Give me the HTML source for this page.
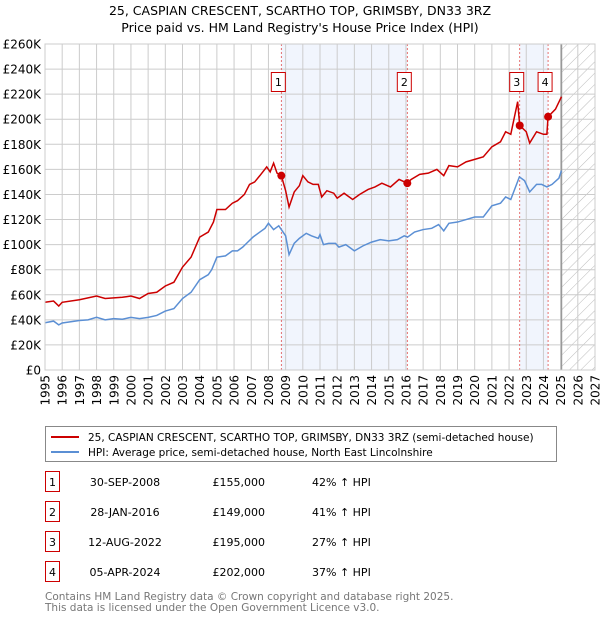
<!DOCTYPE html>
<html><head><meta charset="utf-8">
<style>
body{margin:0;background:#fff;font-family:"Liberation Sans","DejaVu Sans",sans-serif;}
svg text{font-family:"DejaVu Sans","Liberation Sans",sans-serif;}
</style></head>
<body>
<svg id="chart" width="600" height="620" viewBox="0 0 600 620" xmlns="http://www.w3.org/2000/svg">
<defs>
<pattern id="hatch" width="8" height="8" patternUnits="userSpaceOnUse" patternTransform="rotate(45)">
<line x1="0" y1="0" x2="0" y2="8" stroke="#bbb" stroke-width="1"/>
</pattern>
</defs>
<text x="300" y="15" text-anchor="middle" font-size="12.5" fill="#000">25, CASPIAN CRESCENT, SCARTHO TOP, GRIMSBY, DN33 3RZ</text>
<text x="300" y="32" text-anchor="middle" font-size="12.5" fill="#000">Price paid vs. HM Land Registry's House Price Index (HPI)</text>
<g id="plot"></g>
<g id="legend">
<rect x="45.5" y="426.5" width="511" height="35" fill="#fff" stroke="#888"/>
<line x1="51" y1="437" x2="79" y2="437" stroke="#cc0000" stroke-width="2"/>
<text x="88" y="441" font-size="10.5">25, CASPIAN CRESCENT, SCARTHO TOP, GRIMSBY, DN33 3RZ (semi-detached house)</text>
<line x1="51" y1="452" x2="79" y2="452" stroke="#5b8fd4" stroke-width="2"/>
<text x="88" y="456" font-size="10.5">HPI: Average price, semi-detached house, North East Lincolnshire</text>
</g>
<g id="table"></g>
<text x="45" y="600" font-size="10.5" fill="#777">Contains HM Land Registry data © Crown copyright and database right 2025.</text>
<text x="45" y="611" font-size="10.5" fill="#777">This data is licensed under the Open Government Licence v3.0.</text>
</svg>
<script>
const yTicks=[0,20,40,60,80,100,120,140,160,180,200,220,240,260];
const xYears=[1995,1996,1997,1998,1999,2000,2001,2002,2003,2004,2005,2006,2007,2008,2009,2010,2011,2012,2013,2014,2015,2016,2017,2018,2019,2020,2021,2022,2023,2024,2025,2026,2027];
const hpiT=[1995,1995.5,1995.8,1996,1996.5,1997,1997.5,1998,1998.5,1999,1999.5,2000,2000.5,2001,2001.5,2002,2002.5,2003,2003.5,2004,2004.5,2004.7,2005,2005.5,2005.9,2006.2,2006.5,2006.8,2007.1,2007.5,2007.8,2008,2008.3,2008.6,2009,2009.2,2009.5,2009.8,2010.2,2010.5,2010.9,2011,2011.2,2011.5,2011.9,2012.1,2012.5,2013,2013.5,2014,2014.5,2015,2015.5,2015.9,2016.1,2016.5,2017,2017.5,2017.9,2018.2,2018.5,2019,2019.5,2020,2020.5,2021,2021.5,2021.8,2022.1,2022.6,2022.9,2023.2,2023.6,2023.9,2024.2,2024.5,2024.9,2025.05];
const hpiV=[37.7,39,36,37.5,38.5,39.5,40,42,40,41,40.5,42,41,42,43.5,47,49,57,62,72,76,80,90,91,95,95,98,102,106,110,113,117,112,115,107,92,101,105,109,107,105,108,100,101,101,98,100,95,99,102,104,103,104,107,106,110,112,113,116,111,117,118,120,122,122,131,133,138,136,154,151,142,148,148,146,148,153,159];
const ppT=[1995,1995.5,1995.8,1996,1997,1998,1998.5,1999,1999.5,2000,2000.5,2001,2001.5,2002,2002.5,2003,2003.5,2004,2004.5,2004.8,2005,2005.5,2005.9,2006.2,2006.6,2006.9,2007.2,2007.5,2007.9,2008.1,2008.3,2008.5,2008.75,2009,2009.2,2009.5,2009.8,2010,2010.3,2010.6,2010.9,2011.1,2011.4,2011.8,2012,2012.4,2012.9,2013.3,2013.8,2014.2,2014.6,2015.1,2015.6,2016.08,2016.3,2016.8,2017.3,2017.8,2018.2,2018.5,2019,2019.5,2020,2020.5,2021,2021.5,2021.8,2022.1,2022.5,2022.62,2023,2023.2,2023.6,2024,2024.2,2024.27,2024.7,2025.05];
const ppV=[54,55,51,54,56,59,57,57.5,58,59,57,61,62,67,70,82,90,106,110,118,128,128,133,135,140,148,150,155,162,158,165,157,155,143,130,142,147,155,150,148,148,138,143,141,137,141,136,140,144,146,149,146,152,149,152,156,157,160,155,163,162,166,168,170,178,182,190,188,214,195,190,181,190,188,188,202,208,218];
const saleT=[2008.75,2016.08,2022.62,2024.27];
const saleV=[155,149,195,202];
const saleLbl=["1","2","3","4"];
const saleDate=["30-SEP-2008","28-JAN-2016","12-AUG-2022","05-APR-2024"];
const salePrice=["£155,000","£149,000","£195,000","£202,000"];
const saleHpi=["42% ↑ HPI","41% ↑ HPI","27% ↑ HPI","37% ↑ HPI"];

const X0=45,X1=595,Y0=370,Y1=44;
const xs=t=>X0+(t-1995)/(2027-1995)*(X1-X0);
const ys=v=>Y0-v/260*(Y0-Y1);
const NS="http://www.w3.org/2000/svg";
const plot=document.getElementById('plot');
function mk(tag,attrs,parent){const e=document.createElementNS(NS,tag);for(const k in attrs)e.setAttribute(k,attrs[k]);(parent||plot).appendChild(e);return e;}

let r=mk('rect',{x:xs(saleT[0]),y:Y1,width:xs(saleT[1])-xs(saleT[0]),height:Y0-Y1,fill:'#eef3fc',opacity:0.8});


r=mk('rect',{x:xs(saleT[2]),y:Y1,width:xs(saleT[3])-xs(saleT[2]),height:Y0-Y1,fill:'#eef3fc',opacity:0.8});


const fx=xs(2025.05);
r=mk('rect',{x:fx,y:Y1,width:X1-fx,height:Y0-Y1,fill:'url(#hatch)'});



yTicks.forEach(v=>{
 const l=mk('line',{x1:X0,x2:X1,y1:ys(v),y2:ys(v),stroke:'#ccc','stroke-width':1});
 
 
 const t=mk('text',{x:X0-4,y:ys(v)+4.5,'text-anchor':'end','font-size':12});
 t.textContent=v===0?'£0':'£'+v+'K';
 
 
});
xYears.forEach(yr=>{
 const l=mk('line',{x1:xs(yr),x2:xs(yr),y1:Y1,y2:Y0,stroke:'#ccc','stroke-width':1});
 
 
 const t=mk('text',{x:0,y:0,'text-anchor':'end','font-size':12,transform:`translate(${xs(yr)+4.5},${Y0+5}) rotate(-90)`});
 t.textContent=yr;
 
 
});
const fl=mk('line',{x1:fx,x2:fx,y1:Y1,y2:Y0,stroke:'#999','stroke-width':1.5});



saleT.forEach((t,i)=>{
 const l=mk('line',{x1:xs(t),x2:xs(t),y1:Y1,y2:Y0,stroke:'#e05050','stroke-width':0.8,'stroke-dasharray':'2,2'});
 
 
});

const hp=mk('polyline',{points:hpiT.map((t,i)=>xs(t)+','+ys(hpiV[i])).join(' '),fill:'none',stroke:'#5b8fd4','stroke-width':1.5});


const pp=mk('polyline',{points:ppT.map((t,i)=>xs(t)+','+ys(ppV[i])).join(' '),fill:'none',stroke:'#cc0000','stroke-width':1.5});



const bd=mk('rect',{x:X0,y:Y1,width:X1-X0,height:Y0-Y1,fill:'none',stroke:'#ccc'});



saleT.forEach((t,i)=>{
 const c=mk('circle',{cx:xs(t),cy:ys(saleV[i]),r:4,fill:'#cc0000'});
 
 
 const bx=xs(t)-3;
 const b=mk('rect',{x:bx-7,y:72.5,width:14,height:19,fill:'#fff',stroke:'#cc0000'});
 
 
 const tx=mk('text',{x:bx,y:86,'text-anchor':'middle','font-size':11});
 tx.textContent=saleLbl[i];
 
 
});

const tb=document.getElementById('table');
saleT.forEach((t,i)=>{
 const y=489+i*30;
 const b=mk('rect',{x:45.5,y:y-17.5,width:14,height:20,fill:'#fff',stroke:'#cc0000'},tb);
 
 
 const cells=[[52.5,saleLbl[i],'middle'],[125,saleDate[i],'middle'],[265,salePrice[i],'end'],[312,saleHpi[i],'start']];
 cells.forEach((c,j)=>{
  const e=mk('text',{x:c[0],y:y-3,'text-anchor':c[2],'font-size':11},tb);
  e.textContent=c[1];
  
  
 });
});
</script>
</body></html>
